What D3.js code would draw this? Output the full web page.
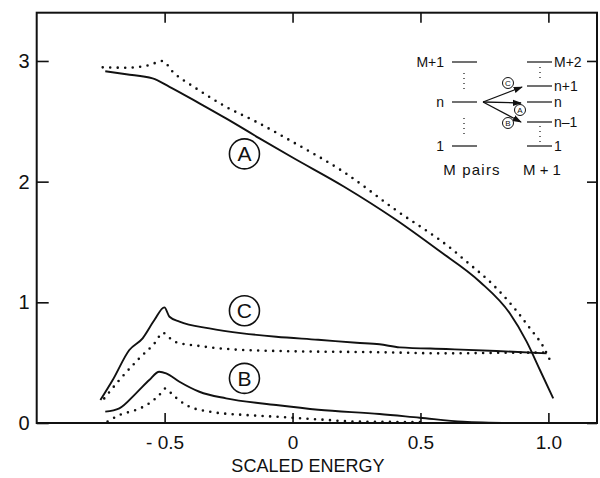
<!DOCTYPE html>
<html>
<head>
<meta charset="utf-8">
<script src="https://cdn.jsdelivr.net/npm/d3@7"></script>
<style>
  body { margin: 0; background: #fff; }
  svg { display: block; font-family: "Liberation Sans", Arial, sans-serif; }
</style>
</head>
<body>
<div id="chart"></div>
<script>
// curve values: [scaled energy, value]
const curveA = [[-0.732,2.915],[-0.65,2.89],[-0.547,2.855],[-0.481,2.786],[-0.364,2.649],[-0.26,2.524],[-0.129,2.359],[0,2.2],[0.2,1.96],[0.4,1.69],[0.569,1.433],[0.732,1.171],[0.849,0.909],[0.915,0.674],[0.967,0.439],[1.019,0.204]];
const curveAdot = [[-0.742,2.947],[-0.651,2.944],[-0.56,2.966],[-0.508,3.0],[-0.468,2.91],[-0.377,2.773],[-0.26,2.62],[-0.142,2.496],[0,2.33],[0.2,2.08],[0.4,1.77],[0.627,1.433],[0.673,1.35],[0.778,1.157],[0.862,0.964],[0.928,0.784],[0.98,0.632],[1.012,0.494]];
const curveC = [[-0.751,0.19],[-0.703,0.356],[-0.638,0.605],[-0.586,0.702],[-0.54,0.853],[-0.501,0.958],[-0.481,0.88],[-0.442,0.84],[-0.325,0.784],[-0.195,0.743],[-0.064,0.715],[0.1,0.69],[0.25,0.665],[0.34,0.652],[0.419,0.627],[0.6,0.613],[0.797,0.597],[0.993,0.577]];
const curveCdot = [[-0.736,0.204],[-0.677,0.356],[-0.599,0.536],[-0.534,0.674],[-0.508,0.748],[-0.462,0.674],[-0.364,0.638],[-0.234,0.61],[-0.064,0.597],[0.353,0.586],[0.6,0.577],[0.888,0.583],[0.986,0.583]];
const curveB = [[-0.732,0.094],[-0.677,0.122],[-0.612,0.246],[-0.56,0.356],[-0.521,0.425],[-0.494,0.412],[-0.442,0.342],[-0.364,0.259],[-0.26,0.204],[-0.064,0.149],[0.1,0.11],[0.34,0.075],[0.497,0.044],[0.667,0.011],[0.85,0]];
const curveBdot = [[-0.723,0.011],[-0.677,0.066],[-0.612,0.108],[-0.56,0.163],[-0.521,0.232],[-0.497,0.287],[-0.468,0.232],[-0.416,0.149],[-0.325,0.094],[-0.181,0.066],[-0.064,0.052],[0.1,0.03],[0.25,0.012],[0.5,0.008]];

const xTicks = [-0.5, 0, 0.5, 1.0];
const xTickLabels = ["- 0.5", "0", "0.5", "1.0"];
const yTicks = [0, 1, 2, 3];

// labels placed on the curves
const circleLabels = [
  {t: "A", x: -0.188, y: 2.23},
  {t: "C", x: -0.188, y: 0.93},
  {t: "B", x: -0.188, y: 0.37}
];

const W = 600, H = 478;
const margin = {top: 12.7, right: 3, bottom: 55, left: 36.7};
const width = W - margin.left - margin.right,
      height = H - margin.top - margin.bottom;

const svg = d3.select("#chart").append("svg")
  .attr("width", W).attr("height", H)
  .append("g")
  .attr("transform", `translate(${margin.left},${margin.top})`);

const x = d3.scaleLinear().domain([-1.0, 1.19]).range([0, width]);
const y = d3.scaleLinear().domain([0, 3.4]).range([height, 0]);

// frame
svg.append("rect")
  .attr("width", width).attr("height", height)
  .attr("fill", "none").attr("stroke", "#111").attr("stroke-width", 2);

// bottom axis, ticks pointing in
svg.append("g")
  .attr("transform", `translate(0,${height})`)
  .call(d3.axisBottom(x).tickValues(xTicks).tickSize(-10).tickSizeOuter(0)
    .tickPadding(13).tickFormat((d, i) => xTickLabels[i]))
  .call(g => g.select(".domain").remove())
  .call(g => g.selectAll("line").attr("stroke", "#111").attr("stroke-width", 1.6))
  .call(g => g.selectAll("text").attr("font-size", 19).attr("fill", "#111")
    .attr("font-family", "Liberation Sans, Arial, sans-serif"));

// top ticks
svg.append("g")
  .call(d3.axisTop(x).tickValues(xTicks).tickSize(-10).tickSizeOuter(0).tickFormat(""))
  .call(g => g.select(".domain").remove())
  .call(g => g.selectAll("line").attr("stroke", "#111").attr("stroke-width", 1.6));

// left axis
svg.append("g")
  .call(d3.axisLeft(y).tickValues(yTicks).tickSize(-12).tickSizeOuter(0)
    .tickPadding(7).tickFormat(d3.format("d")))
  .call(g => g.select(".domain").remove())
  .call(g => g.selectAll("line").attr("stroke", "#111").attr("stroke-width", 1.6))
  .call(g => g.selectAll("text").attr("font-size", 20).attr("fill", "#111")
    .attr("font-family", "Liberation Sans, Arial, sans-serif"));

// right ticks
svg.append("g")
  .attr("transform", `translate(${width},0)`)
  .call(d3.axisRight(y).tickValues(yTicks).tickSize(-10).tickSizeOuter(0).tickFormat(""))
  .call(g => g.select(".domain").remove())
  .call(g => g.selectAll("line").attr("stroke", "#111").attr("stroke-width", 1.6));

// x label
svg.append("text")
  .attr("x", x(0.06)).attr("y", height + 49)
  .attr("text-anchor", "middle")
  .attr("font-size", 18).attr("fill", "#111")
  .text("SCALED ENERGY");

const line = d3.line()
  .x(d => x(d[0])).y(d => y(d[1]))
  .curve(d3.curveMonotoneX);

// solid curves
[curveA, curveC, curveB].forEach(c => {
  svg.append("path").datum(c)
    .attr("d", line)
    .attr("fill", "none").attr("stroke", "#111").attr("stroke-width", 1.9);
});

// dotted curves
[curveAdot, curveCdot, curveBdot].forEach(c => {
  svg.append("path").datum(c)
    .attr("d", line)
    .attr("fill", "none").attr("stroke", "#111").attr("stroke-width", 2.6)
    .attr("stroke-linecap", "round")
    .attr("stroke-dasharray", "0,7.5");
});

// circled letters
const cl = svg.append("g").selectAll("g")
  .data(circleLabels)
  .join("g")
  .attr("transform", d => `translate(${x(d.x)},${y(d.y)})`);
cl.append("circle").attr("r", 15).attr("fill", "#fff")
  .attr("stroke", "#111").attr("stroke-width", 1.6);
cl.append("text").attr("text-anchor", "middle").attr("dy", "0.36em")
  .attr("font-size", 21).attr("fill", "#111").text(d => d.t);

// inset level diagram (page coords)
const ins = d3.select("#chart svg").append("g")
  .attr("font-size", 14).attr("fill", "#111");
const leftLevels = [{y: 62, t: "M+1"}, {y: 102, t: "n"}, {y: 146, t: "1"}];
const rightLevels = [{y: 62, t: "M+2"}, {y: 86, t: "n+1"}, {y: 102, t: "n"}, {y: 122, t: "n\u20131"}, {y: 146, t: "1"}];

ins.selectAll(".ll").data(leftLevels).join("line")
  .attr("x1", 452).attr("x2", 477).attr("y1", d => d.y).attr("y2", d => d.y)
  .attr("stroke", "#111").attr("stroke-width", 1.2);
ins.selectAll(".lt").data(leftLevels).join("text")
  .attr("x", 444).attr("y", d => d.y).attr("dy", "0.35em")
  .attr("text-anchor", "end").text(d => d.t);
ins.selectAll(".rl").data(rightLevels).join("line")
  .attr("x1", 527).attr("x2", 552).attr("y1", d => d.y).attr("y2", d => d.y)
  .attr("stroke", "#111").attr("stroke-width", 1.2);
ins.selectAll(".rt").data(rightLevels).join("text")
  .attr("x", 554).attr("y", d => d.y).attr("dy", "0.35em")
  .text(d => d.t);

// vertical dotted gaps
[[464, 73, 90], [464, 118, 137], [540, 67, 80], [540, 126, 142]].forEach(v => {
  ins.append("line").attr("x1", v[0]).attr("x2", v[0]).attr("y1", v[1]).attr("y2", v[2])
    .attr("stroke", "#111").attr("stroke-width", 1.2).attr("stroke-dasharray", "1,4");
});

ins.append("text").attr("x", 472).attr("y", 175).attr("text-anchor", "middle")
  .attr("font-size", 15).attr("letter-spacing", 1.2).text("M pairs");
ins.append("text").attr("x", 542).attr("y", 175).attr("text-anchor", "middle")
  .attr("font-size", 15).text("M + 1");

// arrows
d3.select("#chart svg").append("defs").append("marker")
  .attr("id", "ah").attr("viewBox", "0 0 10 10").attr("refX", 9).attr("refY", 5)
  .attr("markerWidth", 7).attr("markerHeight", 7).attr("orient", "auto")
  .append("path").attr("d", "M0,1.5L10,5L0,8.5Z").attr("fill", "#111");
[[522, 87], [521, 103], [521, 122]].forEach(e => {
  ins.append("line").attr("x1", 483).attr("y1", 102).attr("x2", e[0]).attr("y2", e[1])
    .attr("stroke", "#111").attr("stroke-width", 1.3).attr("marker-end", "url(#ah)");
});
const small = [{t: "C", x: 508, y: 83}, {t: "A", x: 520, y: 110}, {t: "B", x: 508, y: 123}];
const sg = ins.selectAll(".sm").data(small).join("g")
  .attr("transform", d => `translate(${d.x},${d.y})`);
sg.append("circle").attr("r", 5.5).attr("fill", "#fff").attr("stroke", "#111").attr("stroke-width", 1);
sg.append("text").attr("text-anchor", "middle").attr("dy", "0.36em")
  .attr("font-size", 8).text(d => d.t);
</script>
</body>
</html>
